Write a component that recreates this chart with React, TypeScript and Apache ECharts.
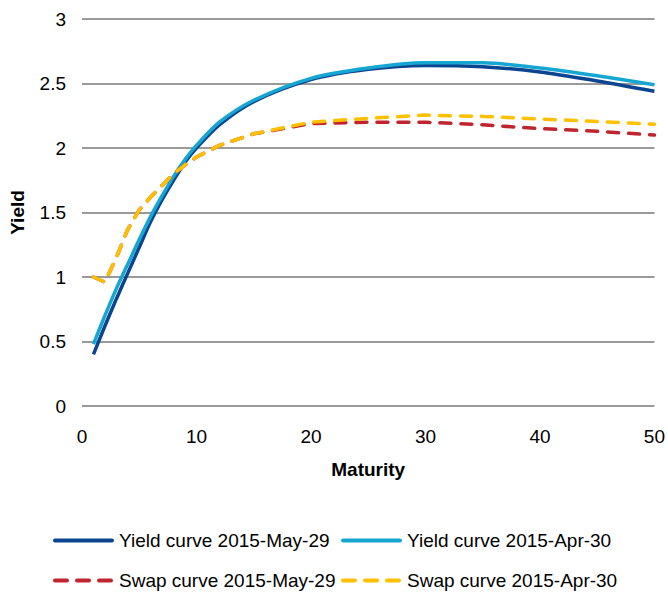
import React, { useEffect, useRef } from "react";
import * as echarts from "echarts";

const maturities = [1, 2, 3, 4, 5, 6, 7, 8, 9, 10, 12, 15, 20, 25, 30, 35, 40, 45, 50];
const yieldMay = [0.4, 0.62, 0.83, 1.03, 1.23, 1.43, 1.6, 1.75, 1.89, 2.0, 2.18, 2.36, 2.53, 2.61, 2.64, 2.63, 2.59, 2.52, 2.44];
const yieldApr = [0.48, 0.7, 0.91, 1.1, 1.29, 1.47, 1.63, 1.78, 1.91, 2.02, 2.2, 2.37, 2.54, 2.62, 2.66, 2.66, 2.62, 2.56, 2.49];
const swapMay = [1.0, 0.96, 1.15, 1.37, 1.52, 1.62, 1.71, 1.8, 1.87, 1.93, 2.02, 2.11, 2.19, 2.2, 2.2, 2.18, 2.15, 2.13, 2.1];
const swapApr = [1.0, 0.96, 1.15, 1.37, 1.52, 1.62, 1.71, 1.8, 1.87, 1.93, 2.02, 2.11, 2.2, 2.23, 2.255, 2.245, 2.225, 2.205, 2.185];

const seriesNames = [
  "Yield curve 2015-May-29",
  "Yield curve 2015-Apr-30",
  "Swap curve 2015-May-29",
  "Swap curve 2015-Apr-30",
];
const colors = ["#0b4590", "#15a6d2", "#c0252d", "#ffc000"];

const FONT = "'Liberation Sans Narrow', 'Arial Narrow', 'Liberation Sans', Arial, sans-serif";

export default function App() {
  const ref = useRef<HTMLDivElement>(null);
  useEffect(() => {
    if (!ref.current) return;
    const chart = echarts.init(ref.current, null, { renderer: "svg" });
    const pair = (ys: number[]) => maturities.map((m, i) => [m, ys[i]]);
    const all = [yieldMay, yieldApr, swapMay, swapApr];
    const series = all.map((ys, i) => ({
      name: seriesNames[i],
      type: "line",
      data: pair(ys),
      symbol: "none",
      smooth: i < 2 ? 0.3 : false,
      lineStyle: {
        color: colors[i],
        width: 3.5,
        type: i < 2 ? "solid" : [11, 10],
        cap: i < 2 ? "butt" : "round",
      },
      itemStyle: { color: colors[i] },
    }));
    const legendPos = [
      { left: 53, top: 531 },
      { left: 341, top: 531 },
      { left: 53, top: 571 },
      { left: 341, top: 571 },
    ];
    chart.setOption({
      animation: false,
      grid: { left: 77, right: 13, top: 19, bottom: 190, containLabel: false },
      xAxis: {
        type: "value",
        min: 0,
        max: 50,
        interval: 10,
        name: "Maturity",
        nameLocation: "middle",
        nameGap: 54,
        nameTextStyle: { fontFamily: FONT, fontSize: 19, fontWeight: "bold", color: "#000" },
        axisLine: { show: false },
        axisTick: { show: false },
        splitLine: { show: false },
        axisLabel: { fontFamily: FONT, fontSize: 19, color: "#000", margin: 21 },
      },
      yAxis: {
        type: "value",
        min: 0,
        max: 3,
        interval: 0.5,
        name: "Yield",
        nameLocation: "middle",
        nameRotate: 90,
        nameGap: 55,
        nameTextStyle: { fontFamily: FONT, fontSize: 19, fontWeight: "bold", color: "#000" },
        axisLine: { show: false },
        axisTick: { show: false },
        splitLine: { show: true, lineStyle: { color: "#9a9a9a", width: 2 } },
        axisLabel: { fontFamily: FONT, fontSize: 19, color: "#000", margin: 16 },
      },
      legend: seriesNames.map((n, i) => ({
        data: [n],
        left: legendPos[i].left,
        top: legendPos[i].top,
        itemWidth: 57,
        itemHeight: 20,
        itemGap: 0,
        padding: 0,
        itemStyle: { opacity: 0 },
        lineStyle: {
          width: 4,
          color: colors[i],
          type: i < 2 ? "solid" : [12, 10],
          cap: "round",
        },
        textStyle: { fontFamily: FONT, fontSize: 19, color: "#000", padding: [0, 0, 0, 2] },
      })),
      series,
    });
    return () => chart.dispose();
  }, []);
  return <div ref={ref} style={{ width: 668, height: 596, position: "absolute", left: 0, top: 0 }} />;
}
